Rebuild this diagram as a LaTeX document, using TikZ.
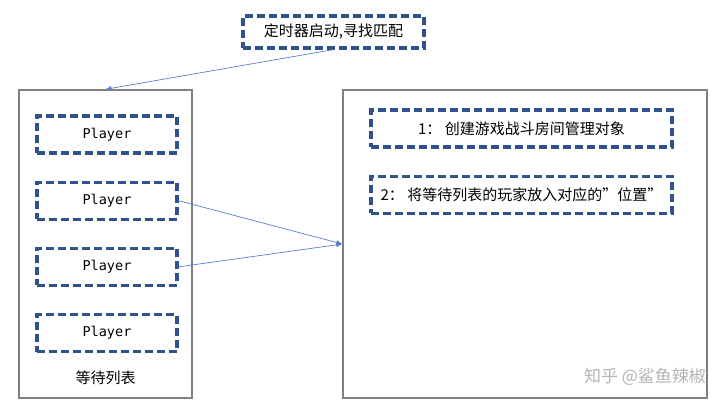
\documentclass[tikz,border=0pt]{standalone}
\usepackage{fontspec}
\setmainfont{Noto Sans CJK SC}
\setmonofont{DejaVu Sans Mono}
\usetikzlibrary{arrows.meta,positioning,shapes}
\definecolor{dashblue}{HTML}{2F528F}
\definecolor{linkblue}{HTML}{5B7FC7}
\definecolor{framegray}{HTML}{808080}
\definecolor{markgray}{HTML}{B4B4B4}
\tikzset{%
	task/.style     = {draw=dashblue, line width=3.2pt, dash pattern=on 8pt off 4pt, rectangle, minimum height=37pt, text centered, font=\fontsize{15}{18}\selectfont},
	player/.style   = {task, minimum width=140pt, font=\ttfamily\fontsize{13.5}{16}\selectfont}, % Player
	frame/.style    = {draw=framegray, line width=1.4pt, rectangle}, % Container
	label/.style    = {font=\fontsize{15}{18}\selectfont},
	arrow/.style    = {draw=linkblue, line width=0.7pt, -{Latex[length=6pt,width=5pt]}},
}
\begin{document}
\begin{tikzpicture}[x=1pt,y=-1pt,node distance=66.2pt]
		\useasboundingbox (0,0) rectangle (720,404);
		\node [frame,minimum width=173pt,minimum height=308pt] (queue) at (105.5,244) {};
		\node [frame,minimum width=364pt,minimum height=308pt] (room) at (525,244) {};
		
		\node [task,minimum width=181pt,minimum height=32pt] (timer) at (333.5,32) {定时器启动,寻找匹配};
		
		\node [player] (p1) at (107,134.5) {Player};
		\node [player] (p2) [below of=p1] {Player};
		\node [player] (p3) [below of=p2] {Player};
		\node [player] (p4) [below of=p3] {Player};
		\node [label] (wait) at (105.5,378) {等待列表};
		
		\node [task,minimum width=301pt] (create) at (521.5,128.5) {1： 创建游戏战斗房间管理对象};
		\node [task,minimum width=301pt] (place) [below of=create] {2： 将等待列表的玩家放入对应的”位置”};
		
		\draw[arrow] (timer.south) -- (queue.north);
		\draw[arrow] (p2.east) -- (room.west);
		\draw[arrow] (p3.east) -- (room.west);
		
		\node [text=markgray,font=\fontsize{17}{20}\selectfont] (mark) at (645,377) {知乎 @鲨鱼辣椒};
\end{tikzpicture}
\end{document}
